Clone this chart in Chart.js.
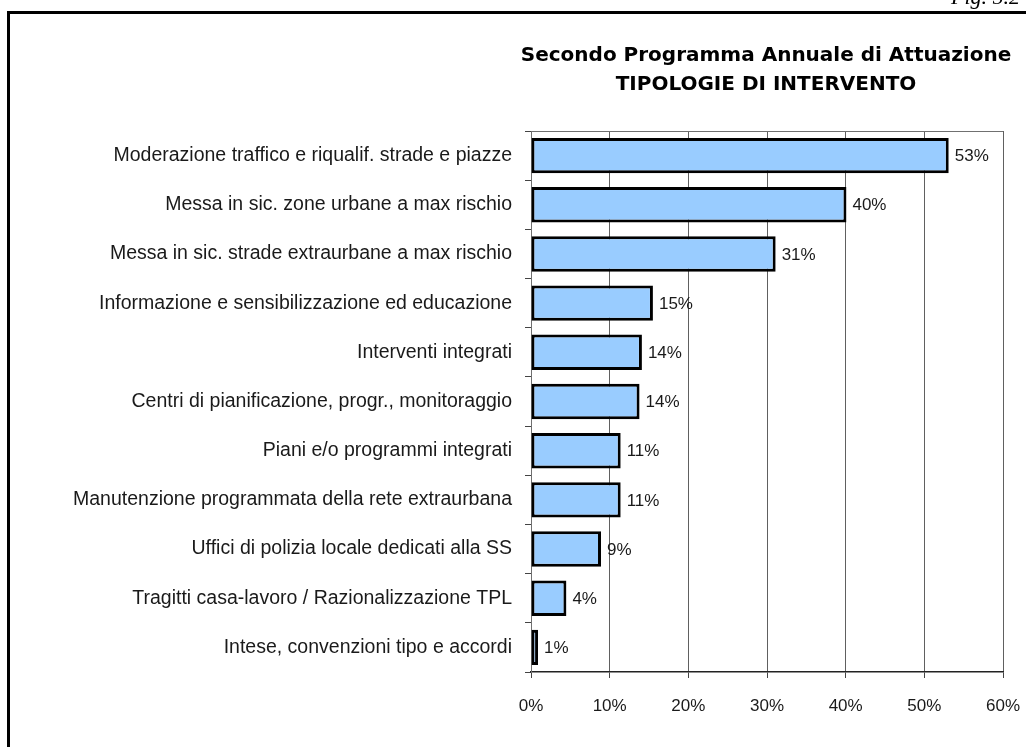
<!DOCTYPE html>
<html>
<head>
<meta charset="utf-8">
<script src="https://cdn.jsdelivr.net/npm/chart.js@4"></script>
<style>
  html, body { margin: 0; padding: 0; background: #fff; }
  #wrap { width: 1026px; height: 747px; position: relative; }
</style>
</head>
<body>
<div id="wrap"><canvas id="tipologieChart" width="1026" height="747"></canvas></div>
<script>
const categories = [
  'Moderazione traffico e riqualif. strade e piazze',
  'Messa in sic. zone urbane a max rischio',
  'Messa in sic. strade extraurbane a max rischio',
  'Informazione e sensibilizzazione ed educazione',
  'Interventi integrati',
  'Centri di pianificazione, progr., monitoraggio',
  'Piani e/o programmi integrati',
  'Manutenzione programmata della rete extraurbana',
  'Uffici di polizia locale dedicati alla SS',
  'Tragitti casa-lavoro / Razionalizzazione TPL',
  'Intese, convenzioni tipo e accordi'
];
const shares = [53.1, 40.1, 31.1, 15.5, 14.1, 13.8, 11.4, 11.4, 8.9, 4.5, 0.9];
const shareLabels = ['53%', '40%', '31%', '15%', '14%', '14%', '11%', '11%', '9%', '4%', '1%'];
const xTicks = [0, 10, 20, 30, 40, 50, 60];

const labelFont = "'Liberation Sans', Arial, sans-serif";

// frame, figure number, title, top edge of the plot and value labels
const decorations = {
  id: 'decorations',
  beforeDraw(chart) {
    const c = chart.ctx;
    c.save();
    c.fillStyle = '#fff';
    c.fillRect(0, 0, chart.width, chart.height);
    c.restore();
  },
  afterDraw(chart) {
    const c = chart.ctx;
    const area = chart.chartArea;
    c.save();
    c.strokeStyle = '#000';
    c.lineWidth = 3;
    c.beginPath();
    c.moveTo(8.5, 760);
    c.lineTo(8.5, 12.5);
    c.lineTo(1040, 12.5);
    c.stroke();

    c.fillStyle = '#000';
    c.font = "italic 22px 'Liberation Serif', serif";
    c.textAlign = 'left';
    c.textBaseline = 'alphabetic';
    c.fillText('Fig. 5.2', 951, 4);

    c.textAlign = 'center';
    c.font = "bold 20px 'DejaVu Sans', sans-serif";
    c.fillText('Secondo Programma Annuale di Attuazione', 766, 61);
    c.fillText('TIPOLOGIE DI INTERVENTO', 766, 90);

    c.strokeStyle = '#707070';
    c.lineWidth = 1;
    c.beginPath();
    c.moveTo(area.left, area.top + 0.5);
    c.lineTo(area.right, area.top + 0.5);
    c.stroke();

    const meta = chart.getDatasetMeta(0);
    c.font = '17px ' + labelFont;
    c.fillStyle = '#1a1a1a';
    c.textAlign = 'left';
    c.textBaseline = 'middle';
    meta.data.forEach((bar, i) => {
      c.fillText(shareLabels[i], bar.x + 6, bar.y + 1);
    });
    c.restore();
  }
};

new Chart(document.getElementById('tipologieChart'), {
  type: 'bar',
  data: {
    labels: categories,
    datasets: [{
      data: shares,
      backgroundColor: '#99ccff',
      borderColor: '#000',
      borderWidth: 3,
      borderSkipped: false,
      barPercentage: 0.72,
      categoryPercentage: 1.0
    }]
  },
  options: {
    indexAxis: 'y',
    responsive: false,
    animation: false,
    layout: { padding: { top: 131, right: 23, left: 0, bottom: 0 } },
    plugins: {
      legend: { display: false },
      tooltip: { enabled: false }
    },
    scales: {
      x: {
        min: 0,
        max: 60,
        afterBuildTicks: scale => { scale.ticks = xTicks.map(v => ({ value: v })); },
        afterFit: scale => {
          scale.height = 75;
          scale.paddingLeft = 0;
          scale.paddingRight = 0;
        },
        grid: { color: '#606060', lineWidth: 1, tickLength: 6, tickColor: '#444' },
        border: { color: '#222', width: 1.5 },
        ticks: {
          callback: v => v + '%',
          color: '#1a1a1a',
          padding: 18,
          maxRotation: 0,
          font: { family: labelFont, size: 17 }
        }
      },
      y: {
        afterFit: scale => { scale.width = 531; },
        grid: { offset: true, drawOnChartArea: false, tickLength: 6, tickColor: '#444' },
        border: { color: '#707070', width: 1 },
        ticks: {
          color: '#1a1a1a',
          padding: 13,
          autoSkip: false,
          font: { family: labelFont, size: 19.5 }
        }
      }
    }
  },
  plugins: [decorations]
});
</script>
</body>
</html>
